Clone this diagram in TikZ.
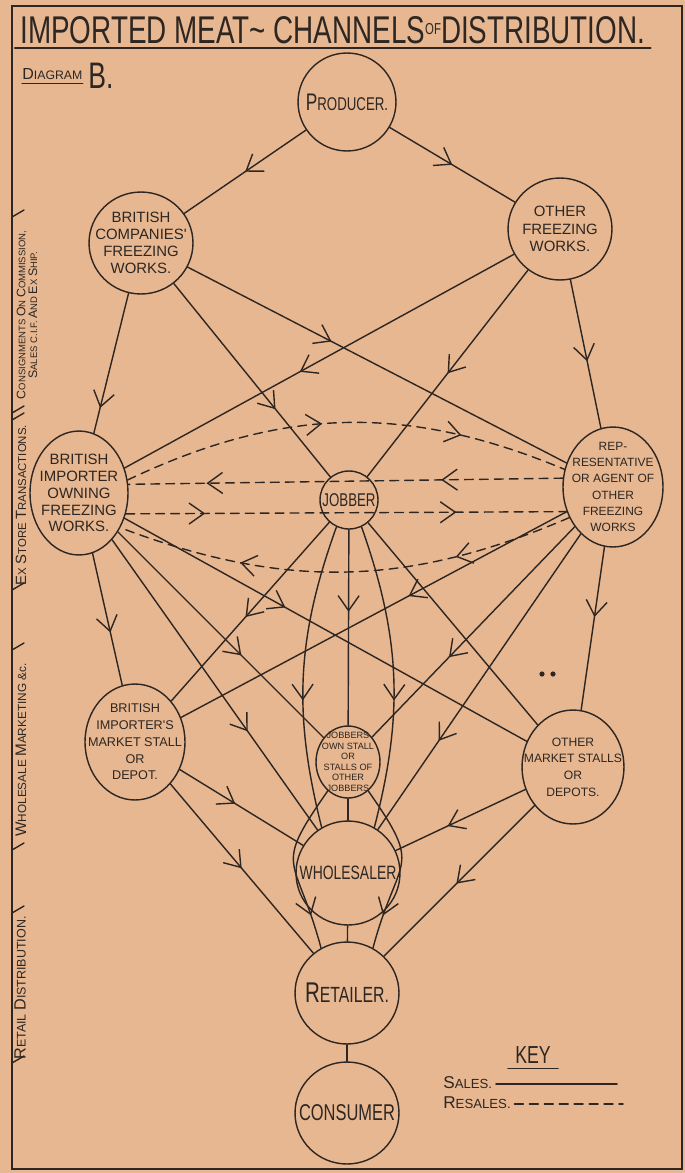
\documentclass[tikz,border=0pt]{standalone}
\usepackage{fontspec}
\setmainfont{Liberation Sans}
\newfontfamily\handfont{Liberation Sans}
\newfontfamily\titlefont[FakeStretch=0.72]{Liberation Sans}
\usetikzlibrary{arrows.meta}
\usetikzlibrary{shapes.geometric}
\usetikzlibrary{decorations.markings}

\definecolor{paper}{RGB}{230,183,144}
\definecolor{ink}{RGB}{45,38,34}

\makeatletter
\newcommand\Ini[1]{{\fontsize{\fpeval{1.3*\f@size}}{\f@baselineskip}\selectfont #1}}
\makeatother
\newcommand\fs[2]{\fontsize{#1}{#2}\selectfont}

\tikzset{
  stage/.style={ellipse, draw=ink, line width=0.8pt, inner sep=0pt},
  rad/.style 2 args={minimum width=#1*0.04cm, minimum height=#2*0.04cm},
  lab/.style={text=ink, align=center, inner sep=0pt, font=\handfont},
  arr/.style={postaction={decorate, decoration={markings,
      mark=at position #1 with {\arrow{Straight Barb[length=3mm,width=4.2mm,line width=0.8pt]}}}}},
  resale/.style={dash pattern=on 5pt off 3.5pt},
}

\begin{document}
\begin{tikzpicture}[x=0.02cm, y=0.02cm, line cap=round,
                    every edge/.style={draw=ink, line width=0.8pt}]
	\fill[paper] (0,0) rectangle (685,-1173);
	\useasboundingbox (0,0) rectangle (685,-1173);
	\draw[ink, line width=1.1pt] (12,-6) rectangle (682,-1169);

	% heading
	\node[lab, anchor=base west, font=\titlefont\fs{22}{22}] (title) at (20,-43)
		{IMPORTED MEAT\textasciitilde{} CHANNELS\raisebox{5pt}{\fs{9}{9}OF}DISTRIBUTION.};
	\draw[ink, line width=1pt] ([xshift=-3pt,yshift=-3pt]title.base west) -- ([xshift=3pt,yshift=-3pt]title.base east);
	\node[lab, anchor=base west, font=\handfont\fs{7}{7}] (diag) at (22,-79) {\Ini{D}IAGRAM};
	\draw[ink, line width=0.7pt] ([yshift=-2.5pt]diag.base west) -- ([yshift=-2.5pt]diag.base east);
	\node[lab, anchor=base west, font=\titlefont\fs{21}{21}] (diagB) at (88,-88) {B.};

	% stages of the trade
	\node[stage, rad={49}{49}, label={[lab, font=\titlefont\fs{10.5}{12}]center:{\Ini{P}RODUCER.}}] (1) at (347,-102) {};
	\node[stage, rad={52}{51}, label={[lab, font=\handfont\fs{8.5}{9.8}]center:{BRITISH\\COMPANIES'\\FREEZING\\WORKS.}}] (2) at (141,-243) {};
	\node[stage, rad={52}{51}, label={[lab, font=\handfont\fs{8.5}{9.8}]center:{OTHER\\FREEZING\\WORKS.}}] (3) at (560,-229) {};
	\node[stage, rad={49}{62}, label={[lab, font=\handfont\fs{8.5}{9.6}]center:{BRITISH\\IMPORTER\\OWNING\\FREEZING\\WORKS.}}] (4) at (79,-493) {};
	\node[stage, rad={29}{29}, label={[lab, font=\titlefont\fs{10.5}{12}]center:{JOBBER}}] (5) at (349,-500) {};
	\node[stage, rad={50}{60}, label={[lab, font=\handfont\fs{6.8}{9.2}]center:{REP-\\RESENTATIVE\\OR AGENT OF\\OTHER\\FREEZING\\WORKS}}] (6) at (613,-487) {};
	\node[stage, rad={50}{58}, label={[lab, font=\handfont\fs{7.2}{9.5}]center:{BRITISH\\IMPORTER'S\\MARKET STALL\\OR\\DEPOT.}}] (7) at (135,-742) {};
	\node[stage, rad={32}{36}, label={[lab, font=\handfont\fs{5.2}{6}]center:{JOBBERS\\OWN STALL\\OR\\STALLS OF\\OTHER\\JOBBERS}}] (8) at (348,-762) {};
	\node[stage, rad={51}{57}, label={[lab, font=\handfont\fs{6.9}{9.5}]center:{OTHER\\MARKET STALLS\\OR\\DEPOTS.}}] (9) at (573,-767) {};
	\node[stage, rad={52}{52}, label={[lab, font=\titlefont\fs{11}{12}]center:{WHOLESALER}}] (10) at (348,-873) {};
	\node[stage, rad={52}{51}, label={[lab, font=\titlefont\fs{12.5}{14}]center:{\Ini{R}ETAILER.}}] (11) at (347,-993) {};
	\node[stage, rad={52}{51}, label={[lab, font=\titlefont\fs{13}{14}]center:{CONSUMER}}] (12) at (347,-1113) {};

	% sales
	\path (1) edge[arr=0.5] (2);
	\path (1) edge[arr=0.5] (3);
	\path (2) edge[arr=0.82] (4);
	\path (2) edge[arr=0.65] (5);
	\path (2) edge[arr=0.38] (6);
	\path (3) edge[arr=0.55] (4);
	\path (3) edge[arr=0.5] (5);
	\path (3) edge[arr=0.55] (6);
	\path (4) edge[arr=0.6] (7);
	\path (4) edge[arr=0.6] (8);
	\path (4) edge[arr=0.4] (9);
	\path (4) edge[arr=0.66] (10);
	\path (5) edge[arr=0.53] (7);
	\path (5) edge[arr=0.42] (8);
	\path (5) edge (9);
	\path (5.245) edge[bend right=17, arr=0.58] (10.120);
	\path (5.295) edge[bend left=17, arr=0.58] (10.60);
	\path (6) edge[arr=0.41] (7);
	\path (6) edge[arr=0.62] (8);
	\path (6) edge[arr=0.43] (9);
	\path (6) edge[arr=0.7] (10);
	\path (7) edge[arr=0.45] (10);
	\path (7) edge[arr=0.5] (11);
	\path (9) edge[arr=0.6] (10);
	\path (9) edge[arr=0.52] (11);
	\path (8) edge (10);
	\path (8.235) edge[out=235, in=105, looseness=1.6, arr=0.8] (11.120);
	\path (8.305) edge[out=305, in=75, looseness=1.6, arr=0.8] (11.60);
	\path (10) edge (11);
	\path (11) edge (12);

	% resales
	\path (4.15) edge[resale, bend left=24, arr=0.45, arr=0.76] (6.160);
	\path (6.170) edge[resale, arr=0.28, arr=0.82] (4.10);
	\path (4.-24) edge[resale, arr=0.18, arr=0.75] (6.208);
	\path (6.215) edge[resale, bend left=22, arr=0.26, arr=0.73] (4.-40);

	\fill[ink] (542,-674) circle[radius=2.6];
	\fill[ink] (553,-674) circle[radius=2.6];

	% side headings
	\foreach \y in {217,413,420,590,650,850,913,1063}
		\draw[ink, line width=0.8pt] (12,-\y) -- (24,-\y+7);
	\node[lab, rotate=90, font=\handfont\fs{5.4}{6.8}] (cons) at (27,-315)
		{\Ini{C}ONSIGNMENTS \Ini{O}N \Ini{C}OMMISSION,\\\Ini{S}ALES C.I.F. \Ini{A}ND \Ini{E}X \Ini{S}HIP.};
	\node[lab, rotate=90, font=\handfont\fs{6.5}{8}] (store) at (21,-505) {\Ini{E}X \Ini{S}TORE \Ini{T}RANSACTIONS.};
	\node[lab, rotate=90, font=\handfont\fs{6.7}{8}] (whole) at (21,-750) {\Ini{W}HOLESALE \Ini{M}ARKETING \&c.};
	\node[lab, rotate=90, font=\handfont\fs{7.1}{8}] (retail) at (20,-988) {\Ini{R}ETAIL \Ini{D}ISTRIBUTION.};

	% key
	\node[lab, font=\titlefont\fs{14}{14}] (key) at (533,-1055) {KEY};
	\draw[ink, line width=0.8pt] ([xshift=-4pt,yshift=-3pt]key.base west) -- ([xshift=4pt,yshift=-3pt]key.base east);
	\node[lab, anchor=base west, font=\handfont\fs{7.5}{8}] (sal) at (443,-1088) {\Ini{S}ALES.};
	\node[lab, anchor=base west, font=\handfont\fs{7.5}{8}] (resal) at (443,-1108) {\Ini{R}ESALES.};
	\coordinate (salend) at (617,-1084);
	\coordinate (resalend) at (623,-1104);
	\draw[ink, line width=0.9pt] ([xshift=2pt]sal.east |- salend) -- (salend);
	\draw[ink, line width=0.9pt, resale] ([xshift=2pt]resal.east |- resalend) -- (resalend);
\end{tikzpicture}
\end{document}
